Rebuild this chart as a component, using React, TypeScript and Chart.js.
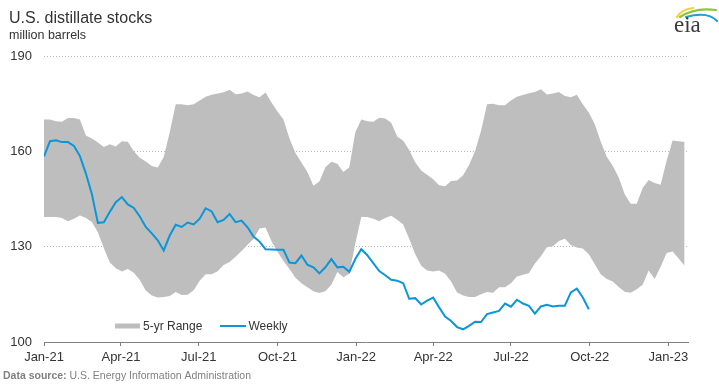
import React, { useEffect, useRef } from 'react';
import { Chart, registerables } from 'chart.js';

Chart.register(...registerables);

const TITLE = 'U.S. distillate stocks';
const SUBTITLE = 'million barrels';
const SOURCE_BOLD = 'Data source:';
const SOURCE_TEXT = ' U.S. Energy Information Administration';

// x positions are days since Jan 1, 2021
const tickDays = [0, 90, 181, 273, 365, 455, 546, 638, 730];
const tickLabels = ['Jan-21', 'Apr-21', 'Jul-21', 'Oct-21', 'Jan-22', 'Apr-22', 'Jul-22', 'Oct-22', 'Jan-23'];
const yMin = 100;
const yMax = 190;
const yStep = 30;
const xMaxDay = 753;
const WEEK_DAYS = 7;

// Weekly distillate stocks (million barrels), weekly from Jan 1, 2021
const weekly = [
  158.4, 163.2, 163.5, 162.9, 162.9, 161.7, 158.5, 153.0, 146.5, 137.5,
  137.7, 141.0, 144.0, 145.6, 143.3, 142.2, 139.5, 136.2, 134.2, 132.0,
  128.8, 133.5, 136.9, 136.2, 137.6, 137.0, 138.8, 142.1, 141.1, 137.7,
  138.4, 140.3, 137.7, 138.2, 136.1, 133.2, 131.6, 129.2, 129.1, 129.0,
  129.0, 125.0, 124.8, 127.2, 124.3, 123.5, 121.6, 123.5, 126.1, 123.5,
  123.7, 122.1, 126.1, 129.2, 127.3, 124.8, 122.3, 121.0, 119.6, 119.3,
  118.5, 113.6, 113.8, 111.8, 113.0, 114.0, 110.9, 108.0, 106.6, 104.7,
  104.0, 105.1, 106.4, 106.3, 108.8, 109.3, 109.8, 112.1, 111.1, 113.3,
  112.1, 111.4, 108.9, 111.2, 111.7, 111.2, 111.4, 111.4, 115.6, 116.8,
  114.0, 110.3,
];

// 5-year range upper bound, weekly from Jan 1, 2021
const rangeHigh = [
  170.0, 170.0, 169.5, 169.3, 170.5, 170.5, 170.0, 165.0, 164.0, 162.8,
  161.4, 162.2, 161.5, 163.2, 163.0, 160.0, 158.0, 156.8, 155.4, 154.9,
  158.2, 166.0, 174.8, 174.8, 174.5, 174.8, 176.0, 177.2, 177.8, 178.2,
  178.6, 179.4, 178.0, 178.2, 178.8, 177.7, 177.0, 178.5, 175.4, 172.5,
  170.0, 164.0, 159.5, 156.5, 153.5, 149.2, 150.5, 155.0, 156.7, 156.1,
  153.5, 155.0, 166.0, 170.0, 169.5, 169.3, 170.6, 170.3, 169.0, 164.7,
  163.3, 160.4, 156.6, 154.0, 152.6, 151.2, 149.3, 149.0, 150.7, 150.8,
  152.5, 155.7, 160.0, 166.5, 174.8, 175.0, 174.5, 174.5, 176.0, 177.2,
  177.7, 178.3, 178.7, 179.5, 177.9, 178.2, 178.7, 177.4, 177.0, 177.8,
  174.8, 172.2, 168.5, 163.0, 158.3, 155.5, 151.8, 146.5, 143.5, 143.5,
  148.5, 151.0, 150.0, 149.5, 157.0, 163.4, 163.2, 162.9,
];

// 5-year range lower bound, weekly from Jan 1, 2021
const rangeLow = [
  139.3, 139.3, 139.3, 139.0, 138.0, 138.8, 139.8, 139.0, 137.8, 134.5,
  129.5, 125.0, 123.2, 122.2, 123.0, 121.8, 119.5, 116.2, 114.6, 114.0,
  114.2, 114.5, 115.7, 114.8, 114.9, 116.3, 119.3, 121.3, 121.3, 122.3,
  124.2, 125.2, 126.8, 128.6, 130.6, 132.4, 135.7, 136.0, 131.7, 128.4,
  125.5, 123.0, 120.2, 118.5, 117.2, 116.0, 115.4, 116.0, 118.0, 122.0,
  120.4, 121.5, 131.0, 139.3, 139.3, 138.8, 138.0, 139.0, 139.7, 138.5,
  137.0, 132.5, 127.7, 124.0, 122.5, 122.2, 122.5, 121.5, 119.0, 115.6,
  114.6, 114.2, 114.2, 115.0, 115.7, 115.5, 117.2, 117.2, 118.5, 120.6,
  121.2, 121.6, 124.7, 127.0, 129.8, 130.1, 131.8, 132.5, 130.5, 129.7,
  129.4, 127.6, 124.5, 121.3, 119.8, 119.0, 117.3, 115.8, 115.5, 116.6,
  118.0, 122.5, 119.8, 123.7, 128.0, 128.5, 126.3, 124.0,
];

const BLUE = '#0a96d7';
const BAND = '#bebebe';
const TEXT = '#333333';
const FONT = '"Liberation Sans", Arial, sans-serif';

const toPoints = (arr: number[]) => arr.map((v, i) => ({ x: i * WEEK_DAYS, y: v }));

const decorPlugin = {
  id: 'decor',
  afterDraw(chart: any) {
    const ctx = chart.ctx as CanvasRenderingContext2D;
    ctx.save();
    // Title & subtitle
    ctx.fillStyle = TEXT;
    ctx.textBaseline = 'alphabetic';
    ctx.textAlign = 'left';
    ctx.font = `16px ${FONT}`;
    ctx.fillText(TITLE, 9, 23);
    ctx.font = `12.5px ${FONT}`;
    ctx.fillText(SUBTITLE, 9, 38.5);

    // Source
    ctx.fillStyle = '#808080';
    ctx.font = `bold 10.5px ${FONT}`;
    ctx.fillText(SOURCE_BOLD, 3, 378.5);
    const w = ctx.measureText(SOURCE_BOLD).width;
    ctx.font = `10.5px ${FONT}`;
    ctx.fillText(SOURCE_TEXT, 3 + w, 378.5);

    // Legend (inside plot area)
    const ds = chart.data.datasets;
    const rangeDs = ds.find((d: any) => d.fill === '+1');
    const lineDs = ds.find((d: any) => d.fill === false && d.label);
    ctx.font = `12px ${FONT}`;
    ctx.textBaseline = 'middle';
    ctx.fillStyle = rangeDs.backgroundColor;
    ctx.fillRect(115, 323.5, 25, 5);
    ctx.fillStyle = TEXT;
    ctx.fillText(rangeDs.label, 143, 326.5);
    ctx.strokeStyle = lineDs.borderColor;
    ctx.lineWidth = 2;
    ctx.beginPath();
    ctx.moveTo(220, 326);
    ctx.lineTo(246, 326);
    ctx.stroke();
    ctx.fillStyle = TEXT;
    ctx.fillText(lineDs.label, 248.5, 326.5);

    // eia logo
    ctx.lineCap = 'round';
    ctx.lineWidth = 2.2;
    ctx.strokeStyle = '#f2d13a';
    ctx.beginPath();
    ctx.moveTo(677, 17);
    ctx.quadraticCurveTo(682, 9, 693, 8);
    ctx.stroke();
    ctx.strokeStyle = '#8cc63f';
    ctx.beginPath();
    ctx.moveTo(680, 17);
    ctx.quadraticCurveTo(695, 7, 716, 10);
    ctx.stroke();
    ctx.strokeStyle = '#1ba1dc';
    ctx.beginPath();
    ctx.moveTo(686, 17);
    ctx.quadraticCurveTo(708, 11, 717, 21);
    ctx.stroke();
    ctx.fillStyle = '#3a3a3a';
    ctx.textBaseline = 'alphabetic';
    ctx.font = `23px "Liberation Serif", "Times New Roman", serif`;
    ctx.fillText('eia', 674, 32);
    ctx.restore();
  },
};

export default function App() {
  const ref = useRef<HTMLCanvasElement | null>(null);
  useEffect(() => {
    document.body.style.margin = '0';
    const canvas = ref.current;
    if (!canvas) return;
    const chart = new Chart(canvas, {
      type: 'line',
      data: {
        datasets: [
          {
            label: 'Weekly',
            data: toPoints(weekly),
            borderColor: BLUE,
            backgroundColor: BLUE,
            borderWidth: 2,
            pointRadius: 0,
            tension: 0,
            fill: false,
          },
          {
            label: '5-yr Range',
            data: toPoints(rangeHigh),
            borderWidth: 0,
            borderColor: 'rgba(0,0,0,0)',
            backgroundColor: BAND,
            pointRadius: 0,
            tension: 0,
            fill: '+1',
          },
          {
            label: '',
            data: toPoints(rangeLow),
            borderWidth: 0,
            borderColor: 'rgba(0,0,0,0)',
            backgroundColor: BAND,
            pointRadius: 0,
            tension: 0,
            fill: false,
          },
        ],
      },
      options: {
        responsive: false,
        animation: false,
        devicePixelRatio: 1,
        layout: { padding: { top: 56, right: 31, left: 0, bottom: 0 } },
        plugins: {
          legend: { display: false },
          title: { display: false },
          tooltip: { enabled: false },
        },
        scales: {
          x: {
            type: 'linear',
            min: 0,
            max: xMaxDay,
            afterBuildTicks: (scale: any) => {
              scale.ticks = tickDays.map((v) => ({ value: v }));
            },
            afterFit: (scale: any) => {
              scale.height = 42;
            },
            ticks: {
              autoSkip: false,
              maxRotation: 0,
              padding: 4,
              color: TEXT,
              font: { family: FONT, size: 13 },
              callback: (value: any) => {
                const idx = tickDays.indexOf(Number(value));
                return idx >= 0 ? tickLabels[idx] : '';
              },
            },
            grid: {
              display: true,
              drawOnChartArea: false,
              drawTicks: true,
              tickLength: 4,
              color: '#808080',
            },
            border: { display: true, color: '#808080', width: 1 },
          },
          y: {
            min: yMin,
            max: yMax,
            afterFit: (scale: any) => {
              scale.width = 44;
            },
            ticks: {
              stepSize: yStep,
              padding: 12,
              color: TEXT,
              font: { family: FONT, size: 13 },
            },
            grid: {
              drawTicks: false,
              color: (c: any) => (c.tick && c.tick.value === yMin ? 'rgba(0,0,0,0)' : '#b8b8b8'),
              lineWidth: 1,
            },
            border: { display: false, dash: [1, 2] },
          },
        },
      },
      plugins: [decorPlugin],
    } as any);
    return () => chart.destroy();
  }, []);
  return (
    <div style={{ width: 719, height: 384, position: 'relative', background: '#fff' }}>
      <canvas ref={ref} width={719} height={384} style={{ display: 'block' }} />
    </div>
  );
}
